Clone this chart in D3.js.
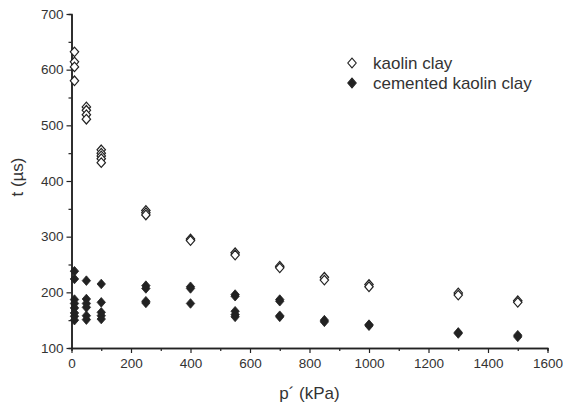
<!DOCTYPE html>
<html>
<head>
<meta charset="utf-8">
<script src="https://cdn.jsdelivr.net/npm/d3@7"></script>
<style>
  html, body { margin: 0; padding: 0; background: #fff; }
  svg { display: block; font-family: "Liberation Sans", Arial, sans-serif; }
</style>
</head>
<body>
<svg id="chart" width="563" height="405"></svg>
<script>
// Effective confining pressure p' (kPa) at which each group of readings was taken
const pressures = [10, 50, 100, 250, 400, 550, 700, 850, 1000, 1300, 1500];

// Travel times t (µs) for uncemented kaolin clay, one list per pressure
const kaolinTimes = [
  [632, 614, 605, 580],
  [533, 527, 519, 511],
  [456, 450, 445, 440, 433],
  [347, 343, 339],
  [296, 293],
  [271, 267],
  [247, 244],
  [227, 222],
  [214, 210],
  [199, 195],
  [185, 182]
];

// Travel times t (µs) for cemented kaolin clay, one list per pressure
const cementedTimes = [
  [238, 224, 187, 180, 172, 163, 157, 150],
  [221, 188, 180, 173, 158, 151],
  [215, 182, 164, 158, 152],
  [212, 207, 184, 181],
  [210, 207, 180],
  [196, 193, 166, 160, 156],
  [187, 184, 158, 156],
  [150, 147],
  [142, 140],
  [128, 126],
  [123, 120]
];

const xTicks = [0, 200, 400, 600, 800, 1000, 1200, 1400, 1600];
const yTicks = [100, 200, 300, 400, 500, 600, 700];
const seriesNames = ["kaolin clay", "cemented kaolin clay"];

const ink = "#222";
const svg = d3.select("#chart");
const margin = { left: 71.5, right: 15.5, top: 14, bottom: 57 };
const W = 563, H = 405;

const x = d3.scaleLinear().domain([0, 1600]).range([margin.left, W - margin.right]);
const y = d3.scaleLinear().domain([100, 700]).range([H - margin.bottom, margin.top]);

function flatten(times) {
  const out = [];
  times.forEach((list, i) => list.forEach(t => out.push({ p: pressures[i], t })));
  return out;
}

// Diamond marker path, slightly taller than wide
function diamond(hw, hh) {
  return `M0,${-hh}L${hw},0L0,${hh}L${-hw},0Z`;
}
const markerPath = diamond(4.2, 4.8);

// Minor ticks
const gMinorX = svg.append("g").attr("transform", `translate(0,${y(100)})`)
  .call(d3.axisBottom(x).tickValues(d3.range(100, 1600, 200)).tickSize(3).tickFormat(""));
const gMinorY = svg.append("g").attr("transform", `translate(${x(0)},0)`)
  .call(d3.axisLeft(y).tickValues(d3.range(150, 700, 100)).tickSize(3).tickFormat(""));

// Major axes
const gx = svg.append("g").attr("transform", `translate(0,${y(100)})`)
  .call(d3.axisBottom(x).tickValues(xTicks).tickFormat(d3.format("d"))
    .tickSize(5).tickPadding(5).tickSizeOuter(0));
const gy = svg.append("g").attr("transform", `translate(${x(0)},0)`)
  .call(d3.axisLeft(y).tickValues(yTicks).tickFormat(d3.format("d"))
    .tickSize(5).tickPadding(3).tickSizeOuter(0));

[gMinorX, gMinorY, gx, gy].forEach(g => {
  g.select(".domain").attr("stroke", ink).attr("stroke-width", 1.5);
  g.selectAll(".tick line").attr("stroke", ink).attr("stroke-width", 1.2);
  g.selectAll(".tick text").attr("fill", "#333").style("font-size", "13.5px")
    .style("font-family", "'Liberation Sans', Arial, sans-serif");
});

// Axis titles
svg.append("text")
  .attr("x", x(800)).attr("y", 399)
  .attr("text-anchor", "middle").attr("fill", "#333")
  .style("font-size", "17px")
  .text("p\u00B4 (kPa)");
svg.append("text")
  .attr("transform", `translate(23,${y(400) - 4}) rotate(-90)`)
  .attr("text-anchor", "middle").attr("fill", "#333")
  .style("font-size", "17px")
  .text("t (\u00B5s)");

// Data points
svg.append("g").selectAll("path")
  .data(flatten(cementedTimes)).join("path")
  .attr("d", markerPath)
  .attr("transform", d => `translate(${x(d.p)},${y(d.t)})`)
  .attr("fill", ink).attr("stroke", ink).attr("stroke-width", 0.8);

svg.append("g").selectAll("path")
  .data(flatten(kaolinTimes)).join("path")
  .attr("d", markerPath)
  .attr("transform", d => `translate(${x(d.p)},${y(d.t)})`)
  .attr("fill", "#fff").attr("stroke", ink).attr("stroke-width", 1.2);

// Legend
const legend = svg.append("g");
const legendRows = [
  { name: seriesNames[0], fill: "#fff", yPos: 63 },
  { name: seriesNames[1], fill: ink, yPos: 83 }
];
legendRows.forEach(r => {
  legend.append("path").attr("d", markerPath)
    .attr("transform", `translate(352,${r.yPos})`)
    .attr("fill", r.fill).attr("stroke", ink).attr("stroke-width", 1.1);
  legend.append("text").attr("x", 373).attr("y", r.yPos + 6)
    .attr("fill", "#333").style("font-size", "17px").text(r.name);
});
</script>
</body>
</html>
